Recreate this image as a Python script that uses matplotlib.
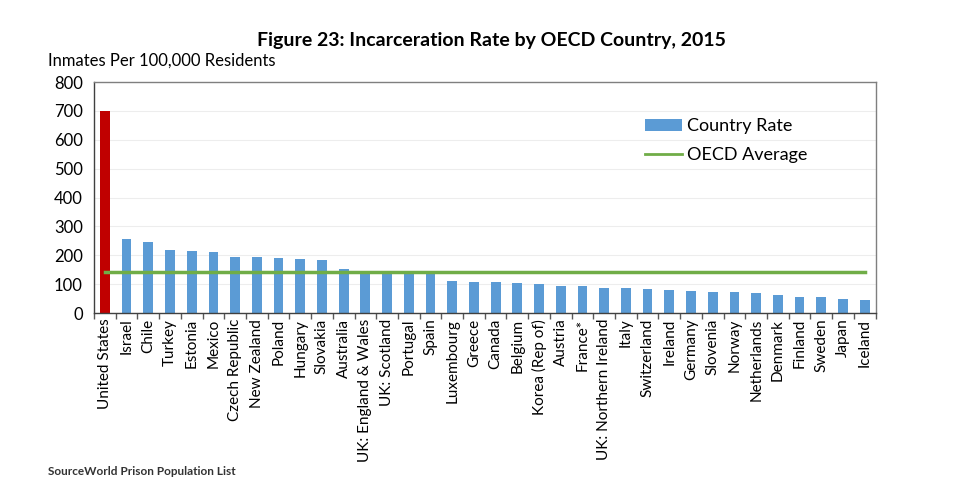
import matplotlib
matplotlib.use("Agg")
import matplotlib.pyplot as plt
from matplotlib.patches import Patch
from matplotlib.lines import Line2D
import numpy as np

countries = ["United States", "Israel", "Chile", "Turkey", "Estonia", "Mexico",
             "Czech Republic", "New Zealand", "Poland", "Hungary", "Slovakia",
             "Australia", "UK: England & Wales", "UK: Scotland", "Portugal", "Spain",
             "Luxembourg", "Greece", "Canada", "Belgium", "Korea (Rep of)", "Austria",
             "France*", "UK: Northern Ireland", "Italy", "Switzerland", "Ireland",
             "Germany", "Slovenia", "Norway", "Netherlands", "Denmark", "Finland",
             "Sweden", "Japan", "Iceland"]
rates = [698, 255, 246, 220, 216, 212, 195, 194, 191, 186, 184, 151, 147, 144,
         139, 135, 112, 109, 106, 105, 101, 95, 95, 87, 86, 84, 80, 78, 73, 72,
         69, 61, 57, 55, 48, 45]
oecd_average = 141
yticks = [0, 100, 200, 300, 400, 500, 600, 700, 800]

BLUE = "#5B9BD5"
RED = "#C00000"
GREEN = "#70AD47"

plt.rcParams['font.family'] = ['Lato', 'DejaVu Sans']

fig = plt.figure(figsize=(9.59, 4.97), dpi=100)
ax = fig.add_axes([0.098, 0.370, 0.815, 0.465])

x = np.arange(len(countries))
colors = [RED] + [BLUE] * (len(countries) - 1)
ax.bar(x, rates, width=0.45, color=colors, zorder=2)
ax.plot(x, [oecd_average] * len(x), color=GREEN, lw=2.5, zorder=3)

ax.set_xlim(-0.5, len(countries) - 0.5)
ax.set_ylim(0, 800)
ax.set_yticks(yticks)
ax.set_yticklabels([str(v) for v in yticks], fontsize=12)
ax.yaxis.grid(True, color="#EDEDED", lw=0.8, zorder=0)
ax.set_axisbelow(True)
ax.tick_params(axis='y', length=0, pad=8)

ax.set_xticks(x)
ax.set_xticklabels(countries, rotation=90, fontsize=11)
ax.tick_params(axis='x', which='major', length=0, pad=4)
ax.set_xticks(np.arange(-0.5, len(countries), 1.0), minor=True)
ax.tick_params(axis='x', which='minor', length=4, color="#595959", width=1)

for s in ax.spines.values():
    s.set_color("#7F7F7F")
    s.set_linewidth(1)
ax.spines['bottom'].set_color("#404040")
ax.spines['left'].set_color("#404040")

handles = [Patch(facecolor=BLUE, edgecolor='none'),
           Line2D([0], [0], color=GREEN, lw=2)]
ax.legend(handles, ["Country Rate", "OECD Average"], loc="upper left",
          bbox_to_anchor=(0.705, 0.843), borderaxespad=0, borderpad=0,
          frameon=False, fontsize=13, handlelength=2.05, handleheight=0.6,
          handletextpad=0.3, labelspacing=0.72)

fig.text(0.512, 0.918, "Figure 23: Incarceration Rate by OECD Country, 2015",
         ha="center", va="center", fontsize=14, fontweight="bold")
fig.text(0.05, 0.878, "Inmates Per 100,000 Residents", ha="left", va="center", fontsize=12)
fig.text(0.05, 0.052, "SourceWorld Prison Population List", ha="left", va="center",
         fontsize=8.5, fontweight="bold", color="#333333")

fig.savefig("out.png", dpi=100)
